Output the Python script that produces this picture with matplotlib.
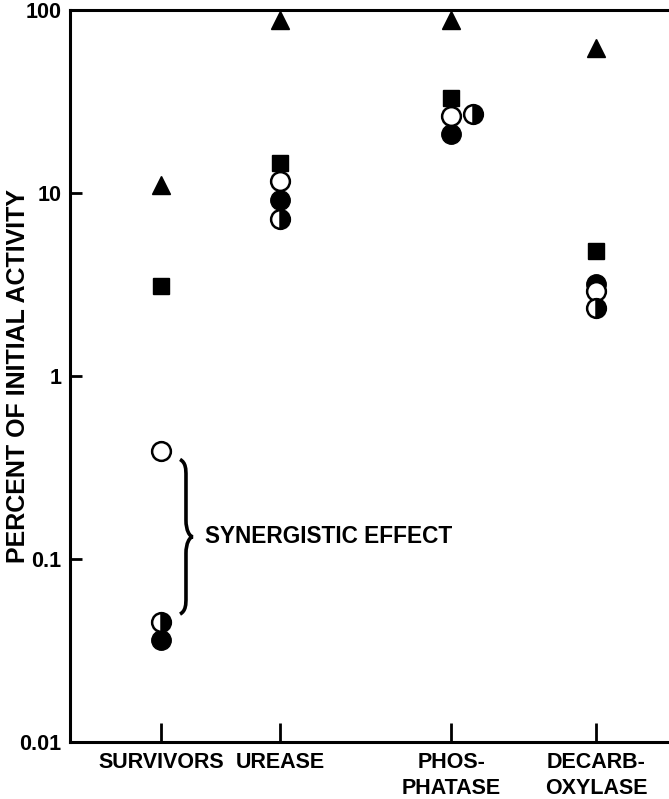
import matplotlib.pyplot as plt
import numpy as np
from matplotlib.path import Path
from matplotlib.patches import PathPatch

plt.rcParams["font.family"] = ["Liberation Sans", "DejaVu Sans"]

# categories and their (uneven) positions along the x axis
categories = ["SURVIVORS", "UREASE", "PHOS-\nPHATASE", "DECARB-\nOXYLASE"]
cat_x = [1.0, 2.0, 3.44, 4.66]

# percent of initial activity, one value per category
triangle_vals = [11.0, 88.0, 88.0, 62.0]
square_vals = [3.1, 14.6, 33.0, 4.8]
open_vals = [0.39, 11.6, 26.5, 2.9]
filled_vals = [0.036, 9.2, 21.0, 3.2]
half_vals = [0.045, 7.2, 27.0, 2.35]
half_shift = [0.0, 0.0, 0.18, 0.0]  # phosphatase half circle sits to the right

brace_range = (0.35, 0.05)  # open circle down to the combined-treatment points
y_ticks = [0.01, 0.1, 1, 10, 100]
y_tick_labels = ["0.01", "0.1", "1", "10", "100"]

fig = plt.figure(figsize=(6.69, 7.99), dpi=100)
ax = fig.add_axes([0.1046, 0.0713, 0.8954, 0.9162])

ax.plot(cat_x, triangle_vals, ls="none", marker="^", ms=12.5, color="black")
ax.plot(cat_x, square_vals, ls="none", marker="s", ms=12, color="black")
ax.plot(cat_x, filled_vals, ls="none", marker="o", ms=14, color="black")
ax.plot(cat_x, open_vals, ls="none", marker="o", ms=13.5, mfc="white", mec="black", mew=1.8)
ax.plot(np.array(cat_x) + np.array(half_shift), half_vals, ls="none", marker="o", ms=13.5,
        fillstyle="right", mfc="black", mfcalt="white", mec="black", mew=1.8)

# curly brace next to the survivors points
lt, lb = np.log10(brace_range[0]), np.log10(brace_range[1])
lm = (lt + lb) / 2
h = 0.09
xb, xa, xt = 1.21, 1.16, 1.27
pts = [
    (xa, lt), (xb, lt - 0.2 * h), (xb, lt - 0.6 * h), (xb, lt - h),
    (xb, lm + h),
    (xb, lm + 0.4 * h), (xt - 0.03, lm), (xt, lm),
    (xt - 0.03, lm), (xb, lm - 0.4 * h), (xb, lm - h),
    (xb, lb + h),
    (xb, lb + 0.6 * h), (xb, lb + 0.2 * h), (xa, lb),
]
codes = [Path.MOVETO, Path.CURVE4, Path.CURVE4, Path.CURVE4, Path.LINETO,
         Path.CURVE4, Path.CURVE4, Path.CURVE4, Path.CURVE4, Path.CURVE4, Path.CURVE4,
         Path.LINETO, Path.CURVE4, Path.CURVE4, Path.CURVE4]
verts = [(x, 10 ** y) for x, y in pts]
ax.add_patch(PathPatch(Path(verts, codes), fill=False, lw=2.6, color="black"))
ax.text(1.37, 10 ** lm, "SYNERGISTIC EFFECT", fontsize=16.3, fontweight="bold",
        va="center", ha="left")

ax.set_yscale("log")
ax.set_ylim(0.01, 100)
ax.set_xlim(0.235, 5.27)
ax.set_yticks(y_ticks)
ax.set_yticklabels(y_tick_labels)
ax.minorticks_off()
ax.set_xticks(cat_x)
ax.set_xticklabels(categories, linespacing=1.35)
ax.tick_params(axis="y", direction="in", length=8.5, width=2, pad=6, labelsize=15.5)
ax.tick_params(axis="x", direction="in", length=14, width=2, pad=7, labelsize=15.5)
for lab in ax.get_xticklabels() + ax.get_yticklabels():
    lab.set_fontweight("bold")
ax.set_ylabel("PERCENT OF INITIAL ACTIVITY", fontsize=18, fontweight="bold")
ax.yaxis.set_label_coords(-0.066, 0.5)

for side in ["left", "top", "bottom"]:
    ax.spines[side].set_linewidth(2.2)
ax.spines["right"].set_visible(False)

fig.savefig("out.png", dpi=100)
